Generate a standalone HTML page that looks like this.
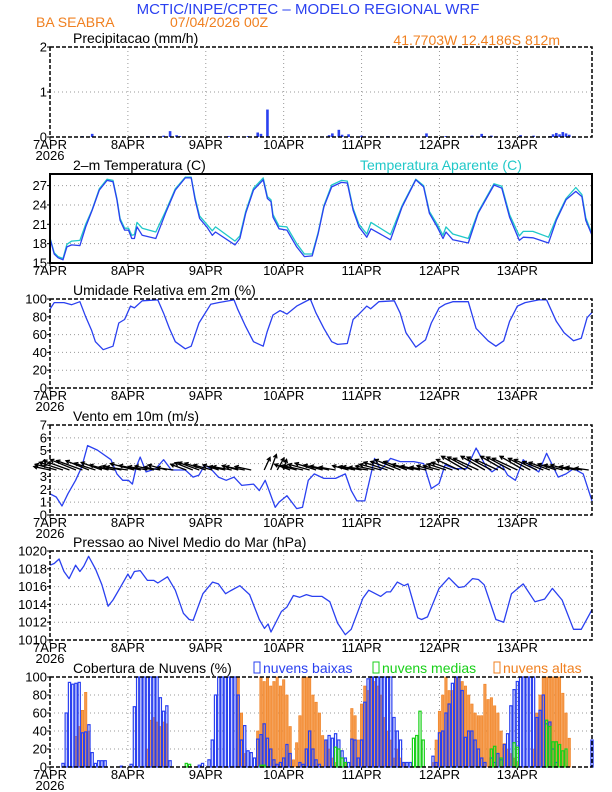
<!DOCTYPE html>
<html><head><meta charset="utf-8"><style>
body{margin:0;background:#fff}
svg{display:block}
text{font-family:"Liberation Sans",sans-serif}
.tk{font-family:"Liberation Sans Narrow","Liberation Sans",sans-serif;font-size:13px;fill:#000}
.pt{font-size:14px;fill:#000}
</style></head><body>
<svg id="chart" width="612" height="792" viewBox="0 0 612 792" xmlns="http://www.w3.org/2000/svg">
<text x="308" y="14" text-anchor="middle" font-size="15" fill="#2a40f0">MCTIC/INPE/CPTEC – MODELO REGIONAL WRF</text>
<text x="36" y="27" font-size="14" fill="#f08020">BA SEABRA</text>
<text x="170" y="27" font-size="14" fill="#f08020">07/04/2026 00Z</text>
<text x="560" y="45" text-anchor="end" font-size="14" fill="#f08020">41.7703W 12.4186S 812m</text>
<g id="g"></g>
</svg>
<script>
// ---- data ----
const precipHours=[10,13,30,32,35,37,39,40,55,56,61,64,65,67,86,87,89,90,92,96,104,116,122,130,133,134,136,145,149,154,155,156,157,158,159,160];
const precipVals=[0.02,0.07,0.02,0.02,0.03,0.13,0.04,0.02,0.02,0.02,0.02,0.1,0.07,0.61,0.04,0.08,0.16,0.05,0.06,0.03,0.02,0.08,0.02,0.03,0.07,0.02,0.03,0.04,0.03,0.02,0.06,0.09,0.06,0.11,0.08,0.05];
const tempHours=[0,1.3,2.5,4,5.2,6.7,9.2,11,13,15.2,17.6,19.4,20.6,21.6,23,24.2,25.2,26,26.8,28.4,32.6,35.6,38.6,41.7,43.5,44.7,46.1,48.3,50,51,57,58.5,60.3,62.7,65.7,67,68.1,68.7,70.6,73,76,78.4,80.8,82.6,84.4,86.8,89.8,91.6,93.4,95.2,97.6,98.9,104.9,108.5,112.7,115.1,116.9,119.3,121.1,122,124.1,128.9,131.9,136.8,139.2,141.6,144.6,145.8,148.8,153.6,156,159,162,163.9,165.1,167];
const tempVals=[18.8,16.4,15.8,15.5,17.5,17.8,17.7,20.6,23.2,26.3,27.8,27.6,24.8,21.6,20.1,20.1,18.8,18.8,20.6,19.3,18.8,22.7,26.3,28.2,28.2,24.8,21.9,20.6,19.3,19.8,17.8,18.8,22.7,26.3,27.9,25,24.5,22.1,20.3,20.1,17.5,16,16.1,19.5,23.7,26.8,27.5,27.4,23.2,20.6,19,20.3,18.6,23.7,27.9,26.8,22.7,20.6,18.8,19.8,18.6,18.1,22.7,27.1,26.6,22.1,18.5,19,18.9,18.1,21.6,24.8,26.1,25.3,21.6,19.3];
const appTempVals=[18.9,16.6,16.0,15.7,17.9,18.4,18.5,21.0,23.3,26.5,28.0,27.8,25.0,21.9,20.4,20.4,19.3,19.4,21.3,20.4,19.8,23.0,26.5,28.3,28.3,25.1,22.3,21.0,20.0,20.6,18.4,19.2,23.0,26.6,28.2,25.3,24.8,22.5,20.7,20.6,18.0,16.4,16.4,19.7,23.9,27.1,27.8,27.7,23.5,21.0,19.5,21.3,19.4,23.9,28.0,27.0,23.0,21.0,19.3,20.6,19.5,18.8,22.9,27.3,26.9,22.5,19.2,19.9,19.9,19.0,21.9,25.0,26.7,25.6,22.0,19.5];
const rhHours=[0,1.3,4.3,6.7,9.2,11,12.8,14,16.4,19.4,21.2,23,24.8,26,28.4,33.2,35,36.8,38.6,41.7,43.5,45.9,49.5,51.9,56.7,57.9,60.3,62.7,65.7,66.9,68.7,70.9,73,76,80.2,82,84.4,86.8,88.6,91.6,93.4,95.2,97.6,98.8,101.3,106.1,107.9,109.7,112.7,115.7,117.5,119.9,121.7,124.1,128.9,131.3,135,137.4,139.8,141.6,144,146.4,150.6,153,156,158.4,161.3,163.7,165.5,167];
const rhVals=[88.7,96,96,93.6,97,80,65,52,43,47,73,77,92,90,98,99,84,67,52,44,47,73,94,96,99,88,69,52,47,63,82,87,83,92,100,84,67,52,49,50,77,83,92,89,97,98,84,62,46,54,73,90,94,97,97,67,53,47,53,75,92,96,99,99,75,62,53,56,79,85];
const windHours=[0,1.9,3.7,5.5,7.9,9.8,11.6,14.6,18.8,20.6,22.4,24.2,25.4,26.6,27.8,29.6,32.6,35,37.4,41.7,44.1,45.9,47.7,49.5,51.9,54.3,56.7,59.1,62.7,64.5,66.3,67.5,69.4,70.6,73,76,77.8,79.6,81.4,84.4,88,91,92.8,94.6,97,100,101.9,104.9,107.9,112.1,115.1,117.5,119.9,121.7,124.7,128.3,131.3,134.4,136.2,139.2,141,143.4,145.8,148.2,150.6,153,156.6,159,161.3,164.3,167];
const windVals=[1.65,1.4,0.7,1.65,2.7,3.75,5.4,5.05,4.3,3.2,2.7,2.7,2.4,3.75,4.5,3.35,3.6,4.3,3.5,3.5,2.95,3.1,3.9,3.6,2.95,2.7,2.95,2.3,2.4,1.9,2.7,1.9,0.6,1,1.5,0.5,0.6,2.7,3.2,2.85,2.85,3.2,1.9,1.1,1.1,4.4,3.5,4.4,4.15,4.15,4,2.05,2.45,3.9,3.6,3.6,5.2,3.75,3.35,3.9,3.1,2.7,4.3,3.75,3.35,4.8,2.95,3.2,3.6,3.2,1.1];
const arrowHours=[0,2,4,6,8,10,12,14,16,18,20,22,24,26,28,30,32,34,36,38,40,42,44,46,48,50,52,54,56,58,60,62,64,66,68,70,72,74,76,78,80,82,84,86,88,90,92,94,96,98,100,102,104,106,108,110,112,114,116,118,120,122,124,126,128,130,132,134,136,138,140,142,144,146,148,150,152,154,156,158,160,162,164,166];
const arrowDirs=[168,165,162,160,158,160,158,162,160,165,170,168,172,165,168,170,168,170,165,172,0,160,158,160,162,165,162,168,170,165,170,168,0,65,70,60,75,160,165,168,165,162,165,168,170,0,165,168,170,172,168,165,162,160,158,160,165,168,170,165,165,162,160,155,150,152,155,150,152,155,150,152,155,150,152,155,158,160,162,165,165,168,170,172];
const arrowSpeeds=[3,4,4.5,5,5,5,4.5,4,4,3.5,3,3.5,4,4.5,4,3.5,3.5,3,3.5,3,0,3,3.5,4,4,3.5,3,3,3.5,3,3.5,3,0,2.5,3,2.5,2,3,3,3.5,4,4,3.5,3.5,3,0,3,3,3.5,3.5,3.5,4,4.5,4.5,5,4.5,4,3.5,3,3,3,3.5,4,4.5,5,5,5,5,5,4.5,5,5,5,5,4.5,4.5,4,4,3.5,3.5,3.5,3,3,2.5];
const presHours=[0,1.3,2.8,4.3,5.9,7.9,9.2,10.4,11.9,14,16,17.9,19.4,21.8,24,24.8,26,27.8,30,32,33.2,36.2,38.6,41.1,42.9,44.1,47.1,50.1,51.9,54.1,55.5,58.5,61.5,64.5,66.1,67.2,68.1,71.3,73,75,76.9,79,80.8,83.8,86.2,88.6,91,92.8,96.4,98.2,101.9,103.7,104.9,107,109.1,110.3,113.3,114.5,116.3,119.9,122.9,125.9,127.7,130.2,132,133.8,137.4,139.8,142.2,145.8,149.4,152.4,154.8,157.8,161.3,163.7,167];
const presVals=[1018.4,1018.6,1019.1,1017.7,1016.9,1018.4,1017.7,1018.3,1019.4,1018.0,1016.2,1013.8,1014.5,1016.0,1017.4,1016.9,1017.7,1017.8,1016.7,1016.7,1016.4,1017.1,1015.6,1013.0,1012.3,1012.2,1015.2,1016.5,1016.3,1015.2,1015.5,1016.1,1015.1,1012.3,1011.3,1011.8,1010.9,1013.2,1013.7,1015.0,1014.8,1015.1,1014.9,1014.9,1014.3,1011.9,1010.6,1011.2,1014.7,1015.6,1014.9,1015.4,1015.4,1016.5,1016.1,1016.3,1012.5,1012.3,1012.6,1015.8,1017.0,1015.9,1016.0,1016.9,1016.8,1016.2,1012.3,1012.0,1015.2,1016.3,1014.3,1014.6,1015.8,1014.5,1011.2,1011.2,1013.4];
const lowCloud=[0,0,0,0,4,60,94,92,93,94,38,39,47,16,4,7,7,7,0,0,0,0,1,0,0,3,67,100,100,100,100,100,100,100,77,62,68,7,0,0,0,0,0,0,0,0,2,4,0,8,30,80,100,100,100,100,100,100,80,30,46,18,16,10,31,36,48,32,20,8,3,5,10,25,15,0,0,5,3,20,40,20,8,3,0,30,35,32,37,30,18,10,5,31,30,10,30,72,98,100,100,100,100,100,100,100,55,40,30,5,5,5,0,0,0,0,0,0,12,5,38,40,60,70,93,100,100,85,33,40,40,30,20,10,5,0,10,5,15,8,25,37,68,86,95,100,100,100,100,100,55,63,80,48,50,20,5,0,0,0,0,0,0,0,0,0,0,30];
const highCloud=[0,0,0,0,0,0,0,0,34,45,63,83,40,0,0,0,0,0,0,0,0,0,0,0,0,0,0,0,0,0,20,52,55,50,45,50,48,0,0,0,0,0,0,0,0,0,0,0,0,0,0,0,0,0,0,0,0,0,100,60,15,0,0,0,40,100,95,100,90,95,100,90,97,80,45,8,27,57,100,100,100,80,72,60,35,30,20,10,5,0,0,5,0,65,57,30,70,90,85,100,95,90,80,55,40,30,10,20,10,5,0,0,0,0,0,0,0,0,5,30,62,80,100,85,85,100,100,95,90,80,70,60,57,57,92,75,77,68,60,40,26,20,15,10,5,0,0,0,0,20,60,80,100,100,100,100,100,100,82,60,32,0,0,0,0,0,0,0];
const midHours=[42,43,65,66,88,89,90,91,112,113,114,115,136,137,139,143,144,153,154,155,156,157,158,159];
const midVals=[4,3,2,2,22,20,10,5,32,35,62,30,20,23,10,27,22,52,45,28,28,25,18,20];
const dayLabels=["7APR","8APR","9APR","10APR","11APR","12APR","13APR"];

// ---- drawing ----
const NS="http://www.w3.org/2000/svg";
const G=document.getElementById('g');
const X0=50,X1=592,HMAX=167;
function xs(h){return X0+h*(X1-X0)/HMAX;}
function mk(tag,attrs,parent){const e=document.createElementNS(NS,tag);for(const k in attrs)e.setAttribute(k,attrs[k]);(parent||G).appendChild(e);return e;}
function ysF(p){return v=>p.bot-(v-p.min)*(p.bot-p.top)/(p.max-p.min);}
function panel(p){
  const g=mk('g',{});
  
  
  const y=ysF(p);
  for(let d=1;d<7;d++){const l=mk('line',{x1:xs(d*24),x2:xs(d*24),y1:p.top,y2:p.bot,stroke:'#999','stroke-dasharray':'1,3'},g);
    }
  p.ticks.forEach(t=>{
    if(t>p.min&&t<p.max){const l=mk('line',{x1:X0,x2:X1,y1:y(t),y2:y(t),stroke:'#999','stroke-dasharray':'1,3'},g);
      }
    const tx=mk('text',{x:X0-3,y:y(t)+4.5,'text-anchor':'end',class:'tk'},g);tx.textContent=t;
    
    mk('line',{x1:X0-3,x2:X0,y1:y(t),y2:y(t),stroke:'#000'},g);
  });
  dayLabels.forEach((d,i)=>{const tx=mk('text',{x:xs(i*24),y:p.bot+12,'text-anchor':'middle',class:'tk'},g);tx.textContent=d;
    
    mk('line',{x1:xs(i*24),x2:xs(i*24),y1:p.bot,y2:p.bot+3,stroke:'#000'},g);});
  if(p.year){const tx=mk('text',{x:xs(0),y:p.bot+23,'text-anchor':'middle',class:'tk'},g);tx.textContent='2026';
    }
  const tt=mk('text',{x:73,y:p.top-4,class:'pt'},g);tt.textContent=p.title;
  
  p.g=g;p.y=y;return p;
}
function frame(p,solid){const r=mk('rect',{x:X0,y:p.top,width:X1-X0,height:p.bot-p.top,fill:'none',stroke:'#000','stroke-width':solid?2:1.5,'stroke-dasharray':solid?'none':'4,2'});
  }
function line(p,hs,vs,col,name){const d=hs.map((h,i)=>(i?'L':'M')+xs(h).toFixed(1)+','+p.y(vs[i]).toFixed(1)).join('');
  const e=mk('path',{d:d,fill:'none',stroke:col,'stroke-width':1.3,'stroke-linejoin':'round'},p.g);}

const P1=panel({name:'precip',title:'Precipitacao (mm/h)',top:47,bot:137,min:0,max:2,ticks:[0,1,2],year:true});
precipHours.forEach((h,i)=>{const b=mk('rect',{x:xs(h)-1.3,y:P1.y(precipVals[i]),width:2.6,height:P1.bot-P1.y(precipVals[i]),fill:'#2a40f0'},P1.g);
  });
frame(P1,false);
const P2=panel({name:'temperature',title:'2–m Temperatura (C)',top:174,bot:263,min:15,max:28.8,ticks:[15,18,21,24,27],year:false});
line(P2,tempHours,appTempVals,'#20c8c8','apparent-temp-line');
line(P2,tempHours,tempVals,'#2a40f0','temp-line');
frame(P2,true);
{const t=mk('text',{x:360,y:170,'font-size':14,fill:'#20c8c8'});t.textContent='Temperatura Aparente (C)';
}
const P3=panel({name:'humidity',title:'Umidade Relativa em 2m (%)',top:299,bot:388,min:0,max:100,ticks:[0,20,40,60,80,100],year:true});
line(P3,rhHours,rhVals,'#2a40f0','humidity-line');frame(P3,false);
const P4=panel({name:'wind',title:'Vento em 10m (m/s)',top:425,bot:515,min:0,max:7,ticks:[0,1,2,3,4,5,6,7],year:true});
line(P4,windHours,windVals,'#2a40f0','wind-speed-line');
arrowHours.forEach((h,i)=>{const s=arrowSpeeds[i];if(!s)return;const a=arrowDirs[i]*Math.PI/180,L=s*5.5;
  const x0=xs(h),y0=P4.y(3.5),x1=x0+L*Math.cos(a),y1=y0-L*Math.sin(a);
  const hx1=x1-4*Math.cos(a-0.5),hy1=y1+4*Math.sin(a-0.5),hx2=x1-4*Math.cos(a+0.5),hy2=y1+4*Math.sin(a+0.5);
  const e=mk('path',{d:`M${x0},${y0}L${x1},${y1}M${hx1},${hy1}L${x1},${y1}L${hx2},${hy2}`,stroke:'#000','stroke-width':1.3,fill:'none'},P4.g);
  });
frame(P4,false);
const P5=panel({name:'pressure',title:'Pressao ao Nivel Medio do Mar (hPa)',top:551,bot:640,min:1010,max:1020,ticks:[1010,1012,1014,1016,1018,1020],year:true});
line(P5,presHours,presVals,'#2a40f0','pressure-line');frame(P5,false);
const P6=panel({name:'clouds',title:'Cobertura de Nuvens (%)',top:677,bot:767,min:0,max:100,ticks:[0,20,40,60,80,100],year:true});
highCloud.forEach((v,h)=>{if(!v)return;const b=mk('rect',{x:xs(h)-1.2,y:P6.y(v),width:2.4,height:P6.bot-P6.y(v),fill:'#f59a4c',stroke:'#f08020','stroke-width':0.6},P6.g);
  });
lowCloud.forEach((v,h)=>{const b=mk('rect',{x:xs(h)-1.1,y:P6.y(v),width:2.2,height:P6.bot-P6.y(v),fill:'none',stroke:'#2a40f0','stroke-width':1.2},P6.g);
  });
midHours.forEach((h,i)=>{const v=midVals[i];const b=mk('rect',{x:xs(h)-1.1,y:P6.y(v),width:2.2,height:P6.bot-P6.y(v),fill:'none',stroke:'#18d018','stroke-width':1.2},P6.g);
  });
frame(P6,false);
[[254,'#2a40f0','nuvens baixas','legend-low'],[373,'#18d018','nuvens medias','legend-mid'],[494,'#f08020','nuvens altas','legend-high']].forEach(l=>{
  const r=mk('rect',{x:l[0],y:662,width:6,height:11,fill:'none',stroke:l[1],'stroke-width':1});
  
  const t=mk('text',{x:l[0]+9,y:673,'font-size':14,fill:l[1]});t.textContent=l[2];
  });
</script>
</body></html>
